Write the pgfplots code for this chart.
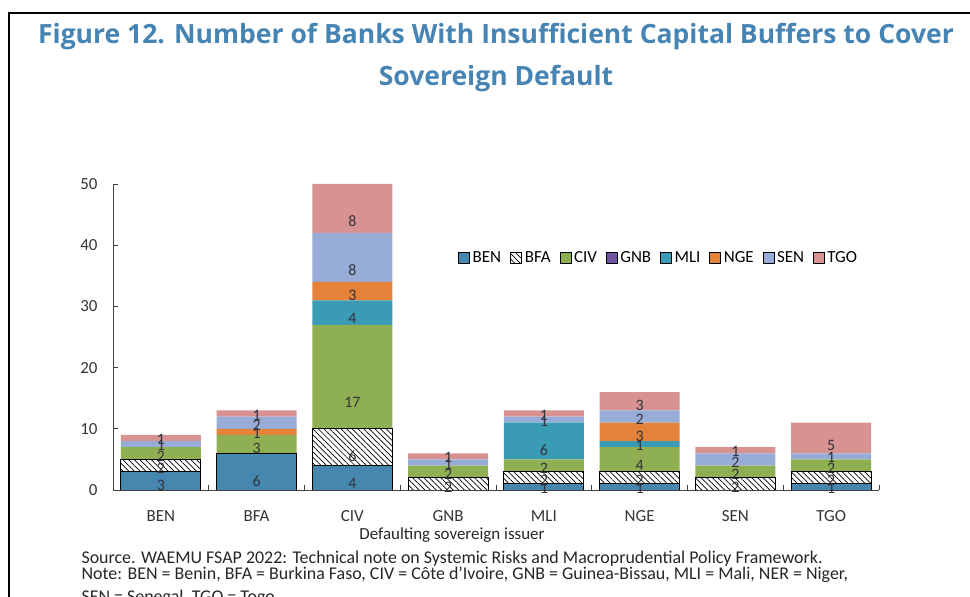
\documentclass[border=0pt]{standalone}
\usepackage{fontspec}
\setmainfont{Carlito}
\newfontfamily\titlefont{Open Sans}
\usepackage{pgfplots}
\pgfplotsset{compat=1.18}
\usetikzlibrary{patterns.meta}

\definecolor{titleblue}{RGB}{70,132,180}
\definecolor{cBEN}{RGB}{70,135,175}
\definecolor{cCIV}{RGB}{143,176,82}
\definecolor{cGNB}{RGB}{112,84,160}
\definecolor{cMLI}{RGB}{58,155,180}
\definecolor{cNGE}{RGB}{228,130,58}
\definecolor{cSEN}{RGB}{151,172,215}
\definecolor{cTGO}{RGB}{216,146,146}
\definecolor{labgray}{RGB}{50,50,60}

% number of banks, by defaulting sovereign (row) and bank home country (column)
\pgfplotstableread{
x BEN BFA CIV GNB MLI NGE SEN TGO
0 3 2 2 0 0 0 1 1
1 6 0 3 0 0 1 2 1
2 4 6 17 0 4 3 8 8
3 0 2 2 0 0 0 1 1
4 1 2 2 0 6 0 1 1
5 1 2 4 0 1 3 2 3
6 0 2 2 0 0 0 2 1
7 1 2 2 0 0 0 1 5
}\banks

\pgfplotsset{seg/.style={visualization depends on={\thisrow{#1}\as\segv}}}

\begin{document}
\begin{tikzpicture}[x=1bp,y=1bp]
\useasboundingbox (0,0) rectangle (970,597);
\clip (0,0) rectangle (970,597);
\draw[line width=2bp] (9,-10) -- (9,584) -- (980,584);

\node[anchor=base, text=titleblue, font=\titlefont\bfseries\fontsize{26.6}{30}\selectfont]
  at (496,553) {Figure 12. Number of Banks With Insufficient Capital Buffers to Cover};
\node[anchor=base, text=titleblue, font=\titlefont\bfseries\fontsize{26.6}{30}\selectfont]
  at (496,511) {Sovereign Default};

\begin{axis}[
  at={(113bp,107bp)}, anchor=south west,
  scale only axis, width=766bp, height=306bp,
  xmin=-0.5, xmax=7.5, ymin=0, ymax=50,
  ybar stacked, bar width=80bp,
  axis lines*=left,
  axis line style={draw=black!75, line width=0.8bp},
  tick align=inside, major tick length=5bp,
  tick style={draw=black!75, line width=0.8bp},
  ytick={0,10,...,50},
  xtick={-0.5,0.5,...,7.5},
  x tick label as interval,
  xticklabels={BEN,BFA,CIV,GNB,MLI,NGE,SEN,TGO},
  /pgf/number format/assume math mode=true,
  tick label style={font=\fontsize{17}{19}\selectfont, text=black!80},
  yticklabel style={xshift=-12bp},
  xticklabel style={yshift=-17bp},
  legend style={draw=none, fill=none, at={(0.446,0.758)}, anchor=west,
    legend columns=-1, font=\fontsize{17}{19}\selectfont,
    /tikz/every even column/.append style={column sep=7bp},
    /tikz/every odd column/.append style={column sep=1bp}},
  every axis plot post/.append style={
    legend image code/.code={\draw[##1] (0bp,-5.5bp) rectangle (11bp,5.5bp);}},
  nodes near coords={\ifdim\segv pt>0.1pt \pgfmathprintnumber[fixed,precision=0]{\segv}\fi},
  every node near coord/.append style={anchor=center, text=labgray,
    font=\fontsize{16}{18}\selectfont, yshift={-1.5357*\segv}},
]
\addplot[fill=cBEN, draw=black, line width=0.8bp, seg=BEN] table[x=x,y=BEN]{\banks};
\addplot[pattern={Lines[angle=-45,distance=4bp,line width=0.7bp]}, draw=black, line width=0.8bp, seg=BFA] table[x=x,y=BFA]{\banks};
\addplot[fill=cCIV, draw=none, seg=CIV] table[x=x,y=CIV]{\banks};
\addplot[fill=cGNB, draw=none, seg=GNB] table[x=x,y=GNB]{\banks};
\addplot[fill=cMLI, draw=none, seg=MLI] table[x=x,y=MLI]{\banks};
\addplot[fill=cNGE, draw=none, seg=NGE] table[x=x,y=NGE]{\banks};
\addplot[fill=cSEN, draw=none, seg=SEN] table[x=x,y=SEN]{\banks};
\addplot[fill=cTGO, draw=none, seg=TGO] table[x=x,y=TGO]{\banks};
\legend{BEN,BFA,CIV,GNB,MLI,NGE,SEN,TGO}
\end{axis}

\node[anchor=base, font=\fontsize{17}{19}\selectfont, text=black!85] at (452,57) {Defaulting sovereign issuer};
\node[anchor=base west, font=\fontsize{18}{20}\selectfont, text=black!85] at (78,33)
  {Source. WAEMU FSAP 2022: Technical note on Systemic Risks and Macroprudential Policy Framework.};
\node[anchor=base west, font=\fontsize{18}{20}\selectfont, text=black!85] at (78,17)
  {Note: BEN = Benin, BFA = Burkina Faso, CIV = Côte d'Ivoire, GNB = Guinea-Bissau, MLI = Mali, NER = Niger,};
\node[anchor=base west, font=\fontsize{18}{20}\selectfont, text=black!85] at (78,-6)
  {SEN = Senegal, TGO = Togo.};
\end{tikzpicture}
\end{document}
